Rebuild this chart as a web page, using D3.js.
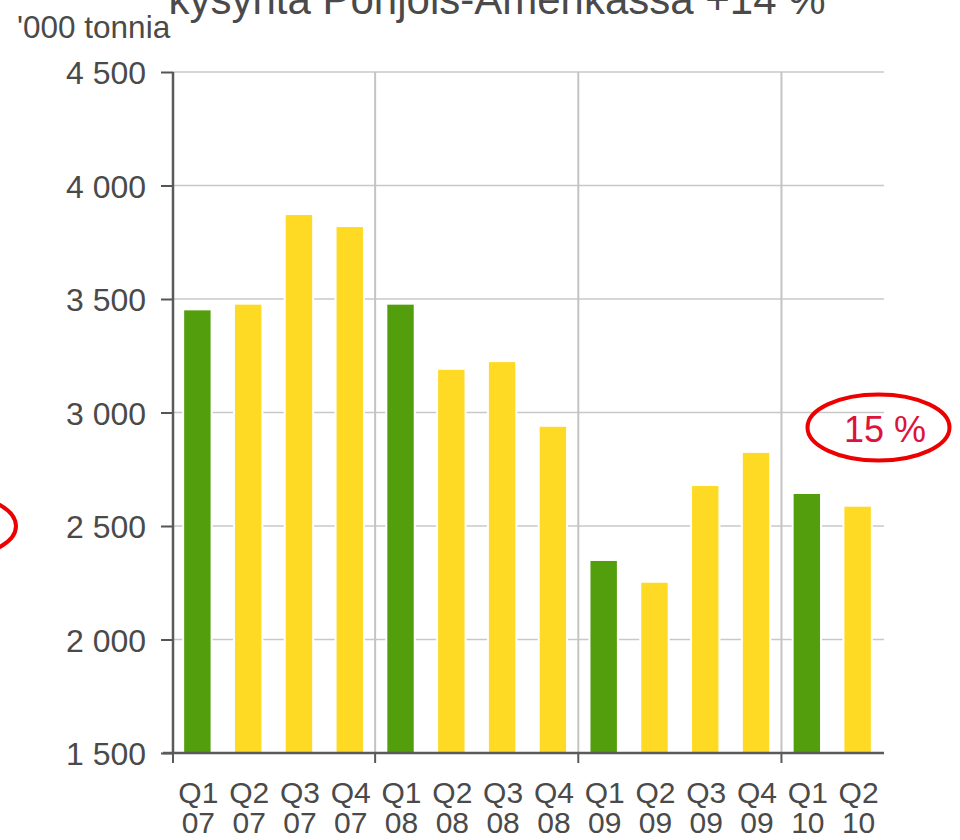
<!DOCTYPE html>
<html>
<head>
<meta charset="utf-8">
<script src="https://cdn.jsdelivr.net/npm/d3@7"></script>
<style>
  body { margin: 0; background: #fff; }
  text { font-family: "Liberation Sans", Arial, sans-serif; }
</style>
</head>
<body>
<div id="chart"></div>
<script>
var quarters = ["Q1", "Q2", "Q3", "Q4", "Q1", "Q2", "Q3", "Q4", "Q1", "Q2", "Q3", "Q4", "Q1", "Q2"];
var years = ["07", "07", "07", "07", "08", "08", "08", "08", "09", "09", "09", "09", "10", "10"];
var demand = [3450, 3475, 3870, 3817, 3475, 3188, 3222, 2937, 2346, 2250, 2676, 2822, 2641, 2585];
var yTicks = [1500, 2000, 2500, 3000, 3500, 4000, 4500];

var fullwidth = 960, fullheight = 840;
var margin = { top: 72, right: 76, bottom: 87, left: 173 };
var width = fullwidth - margin.left - margin.right;
var height = fullheight - margin.top - margin.bottom;

var grey = "#4a4a4a";

var svgRoot = d3.select("#chart").append("svg")
    .attr("width", fullwidth)
    .attr("height", fullheight);

var svg = svgRoot.append("g")
    .attr("transform", "translate(" + margin.left + "," + margin.top + ")");

var keys = d3.range(demand.length);

var xScale = d3.scaleBand()
    .domain(keys)
    .range([0, width - 2])
    .paddingInner(0.48)
    .paddingOuter(0.22);

var yScale = d3.scaleLinear()
    .domain([1500, 4500])
    .range([height, 0]);

// horizontal gridlines
svg.append("g")
    .selectAll("line")
    .data(yTicks)
    .enter().append("line")
    .attr("x1", 0).attr("x2", width)
    .attr("y1", function(d) { return yScale(d); })
    .attr("y2", function(d) { return yScale(d); })
    .attr("stroke", "#c8c8c8")
    .attr("stroke-width", 1.5);

// year separators
var step = xScale.step();
var sepPos = keys.filter(function(i) { return i > 0 && quarters[i] === "Q1"; })
    .map(function(i) { return xScale(i) - xScale.paddingInner() * step / 2; });

svg.append("g")
    .selectAll("line")
    .data(sepPos)
    .enter().append("line")
    .attr("x1", function(d) { return d; })
    .attr("x2", function(d) { return d; })
    .attr("y1", 0).attr("y2", height)
    .attr("stroke", "#c4c4c4")
    .attr("stroke-width", 2);

// white halo behind bars, then bars
svg.append("g")
    .selectAll("rect")
    .data(demand)
    .enter().append("rect")
    .attr("x", function(d, i) { return xScale(i) - 2; })
    .attr("y", function(d) { return yScale(d) - 2; })
    .attr("width", xScale.bandwidth() + 4)
    .attr("height", function(d) { return height - yScale(d) + 2; })
    .attr("fill", "#fff");

svg.append("g")
    .selectAll("rect")
    .data(demand)
    .enter().append("rect")
    .attr("x", function(d, i) { return xScale(i); })
    .attr("y", function(d) { return yScale(d); })
    .attr("width", xScale.bandwidth())
    .attr("height", function(d) { return height - yScale(d); })
    .attr("fill", function(d, i) { return quarters[i] === "Q1" ? "#529e0c" : "#ffda25"; });

// y axis
var yAxis = d3.axisLeft(yScale)
    .tickValues(yTicks)
    .tickSize(12)
    .tickPadding(15)
    .tickFormat(function(d) { return d3.format(",")(d).replace(",", " "); });

var gy = svg.append("g").call(yAxis);
gy.select(".domain").remove();
gy.selectAll(".tick line").attr("stroke", "#555").attr("stroke-width", 2);
gy.selectAll("text")
    .style("font-size", "32px")
    .style("fill", grey)
    .attr("textLength", 80)
    .attr("lengthAdjust", "spacingAndGlyphs")
    .attr("dy", "0.36em");

svg.append("line")
    .attr("x1", 0).attr("x2", 0)
    .attr("y1", 0).attr("y2", height)
    .attr("stroke", "#5a5a5a")
    .attr("stroke-width", 2.5);

// x axis
var gx = svg.append("g").attr("transform", "translate(0," + height + ")");
gx.append("line")
    .attr("x1", -10).attr("x2", width)
    .attr("stroke", "#5a5a5a")
    .attr("stroke-width", 2.5);
gx.selectAll("line.xtick")
    .data([0].concat(sepPos))
    .enter().append("line")
    .attr("class", "xtick")
    .attr("x1", function(d) { return d; })
    .attr("x2", function(d) { return d; })
    .attr("y1", 0).attr("y2", 10)
    .attr("stroke", "#5a5a5a")
    .attr("stroke-width", 2);

var xl = gx.selectAll("text.xlabel")
    .data(keys)
    .enter().append("text")
    .attr("class", "xlabel")
    .attr("text-anchor", "middle")
    .style("font-size", "30px")
    .style("fill", grey);
xl.append("tspan")
    .attr("x", function(i) { return xScale(i) + xScale.bandwidth() / 2 + 1; })
    .attr("y", 50)
    .text(function(i) { return quarters[i]; });
xl.append("tspan")
    .attr("x", function(i) { return xScale(i) + xScale.bandwidth() / 2 + 1; })
    .attr("y", 80)
    .text(function(i) { return years[i]; });

// title (clipped at the top) and unit label
svgRoot.append("text")
    .attr("x", 497)
    .attr("y", 14)
    .attr("text-anchor", "middle")
    .style("font-size", "42px")
    .style("fill", grey)
    .text("kysyntä Pohjois-Amerikassa +14 %");

svgRoot.append("text")
    .attr("x", 17)
    .attr("y", 38)
    .style("font-size", "31.5px")
    .style("fill", grey)
    .text("'000 tonnia");

// red annotations
svgRoot.append("ellipse")
    .attr("cx", 878.5).attr("cy", 427.5)
    .attr("rx", 71).attr("ry", 33)
    .attr("fill", "none")
    .attr("stroke", "#ee0000")
    .attr("stroke-width", 4);

svgRoot.append("text")
    .attr("x", 885)
    .attr("y", 442)
    .attr("text-anchor", "middle")
    .style("font-size", "36px")
    .style("fill", "#dc143c")
    .text("15 %");

svgRoot.append("ellipse")
    .attr("cx", -55).attr("cy", 526)
    .attr("rx", 71).attr("ry", 33)
    .attr("fill", "none")
    .attr("stroke", "#ee0000")
    .attr("stroke-width", 4);
</script>
</body>
</html>
